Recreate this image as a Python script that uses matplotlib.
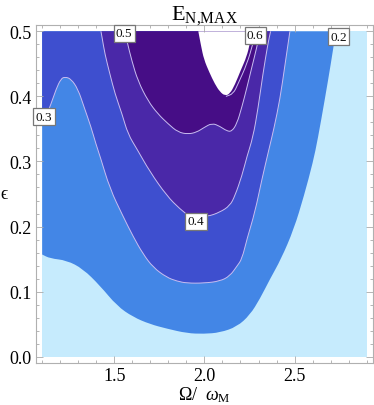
import matplotlib
matplotlib.use('Agg')
import matplotlib.pyplot as plt
from matplotlib.path import Path
from matplotlib.patches import PathPatch

plt.rcParams['mathtext.fontset'] = 'custom'
plt.rcParams['mathtext.rm'] = 'Liberation Serif'
plt.rcParams['mathtext.it'] = 'Liberation Serif:italic'
plt.rcParams['font.family'] = ['Liberation Serif', 'DejaVu Serif']

# ---- data ----
omega_range = [1.1, 2.9]
eps_range = [0.0, 0.5]

region_colors = ['#c6ebfd', '#4386e6', '#3e4fcf', '#4a28a8', '#460d86', '#ffffff']

# contour 0.2 (left edge -> top)
c02_x = [1.10, 1.143, 1.236, 1.326, 1.421, 1.515, 1.604, 1.698, 1.792, 1.903, 1.997, 2.086,
         2.180, 2.252, 2.308, 2.363, 2.425, 2.496, 2.552, 2.602, 2.629, 2.668, 2.701, 2.729]
c02_y = [0.157, 0.151, 0.148, 0.135, 0.109, 0.078, 0.061, 0.050, 0.043, 0.036, 0.035, 0.037,
         0.046, 0.064, 0.089, 0.119, 0.150, 0.196, 0.247, 0.299, 0.335, 0.396, 0.450, 0.500]

# contour 0.3 (left edge -> top)
c03_x = [1.10, 1.149, 1.177, 1.204, 1.226, 1.260, 1.299, 1.332, 1.371, 1.398, 1.421, 1.476,
         1.548, 1.604, 1.659, 1.716, 1.790, 1.848, 1.903, 1.997, 2.086, 2.141, 2.180, 2.208,
         2.236, 2.280, 2.319, 2.358, 2.385, 2.419, 2.446, 2.474]
c03_y = [0.355, 0.388, 0.411, 0.427, 0.430, 0.427, 0.411, 0.384, 0.353, 0.327, 0.308, 0.258,
         0.216, 0.185, 0.158, 0.137, 0.122, 0.116, 0.113, 0.113, 0.116, 0.124, 0.139, 0.150,
         0.181, 0.222, 0.273, 0.319, 0.350, 0.396, 0.447, 0.500]

# contour 0.4 (top -> top)
c04_x = [1.426, 1.432, 1.448, 1.476, 1.504, 1.543, 1.576, 1.626, 1.698, 1.792, 1.864, 1.920,
         2.014, 2.086, 2.141, 2.169, 2.208, 2.236, 2.269, 2.297, 2.324, 2.352, 2.367]
c04_y = [0.500, 0.491, 0.465, 0.434, 0.404, 0.373, 0.342, 0.319, 0.284, 0.247, 0.227, 0.215,
         0.215, 0.222, 0.232, 0.247, 0.278, 0.308, 0.337, 0.381, 0.434, 0.481, 0.500]

# contour 0.5 (top -> top)
c05_x = [1.561, 1.570, 1.598, 1.631, 1.687, 1.742, 1.798, 1.853, 1.910, 1.957, 1.997, 2.042,
         2.086, 2.123, 2.151, 2.180, 2.208, 2.236, 2.263, 2.291, 2.308]
c05_y = [0.500, 0.485, 0.454, 0.424, 0.393, 0.373, 0.358, 0.345, 0.342, 0.345, 0.352, 0.359,
         0.354, 0.347, 0.346, 0.358, 0.384, 0.414, 0.445, 0.476, 0.500]

# contour 0.6 line
c06_x = [2.119, 2.160, 2.186, 2.236, 2.269, 2.284]
c06_y = [0.400, 0.404, 0.419, 0.450, 0.481, 0.500]

# white (undefined) region above 0.6
hole_x = [1.966, 1.981, 1.997, 2.027, 2.058, 2.086, 2.114, 2.141, 2.169, 2.201, 2.234, 2.252, 2.263]
hole_y = [0.500, 0.478, 0.457, 0.437, 0.419, 0.407, 0.401, 0.404, 0.418, 0.440, 0.461, 0.481, 0.500]

label_text = ['0.5', '0.6', '0.2', '0.3', '0.4']
label_x = [1.555, 2.282, 2.744, 1.110, 1.953]
label_y = [0.497, 0.494, 0.492, 0.369, 0.208]

xticks = [1.5, 2.0, 2.5]
yticks = [0.0, 0.1, 0.2, 0.3, 0.4, 0.5]
xminor = [1.1, 1.2, 1.3, 1.4, 1.6, 1.7, 1.8, 1.9, 2.1, 2.2, 2.3, 2.4, 2.6, 2.7, 2.8, 2.9]
yminor = [0.02, 0.04, 0.06, 0.08, 0.12, 0.14, 0.16, 0.18, 0.22, 0.24, 0.26, 0.28,
          0.32, 0.34, 0.36, 0.38, 0.42, 0.44, 0.46, 0.48]


def smooth_path(xs, ys, extra=(), close=False):
    """Quadratic-Bezier path using the read points as control points."""
    pts = list(zip(xs, ys))
    verts = [pts[0]]
    codes = [Path.MOVETO]
    mid = lambda a, b: ((a[0] + b[0]) / 2, (a[1] + b[1]) / 2)
    verts.append(mid(pts[0], pts[1]))
    codes.append(Path.LINETO)
    for i in range(1, len(pts) - 1):
        verts += [pts[i], mid(pts[i], pts[i + 1])]
        codes += [Path.CURVE3, Path.CURVE3]
    verts.append(pts[-1])
    codes.append(Path.LINETO)
    for p in extra:
        verts.append(p)
        codes.append(Path.LINETO)
    if close:
        verts.append(pts[0])
        codes.append(Path.CLOSEPOLY)
    return Path(verts, codes)


# ---- figure ----
fig = plt.figure(figsize=(3.74, 4.06), dpi=100)
ax = fig.add_axes([0.0954, 0.1027, 0.901, 0.834])

x0, x1 = omega_range
y0, y1 = eps_range
ax.fill([x0, x1, x1, x0], [y0, y0, y1, y1], color=region_colors[0], lw=0)
ax.add_patch(PathPatch(smooth_path(c02_x, c02_y, extra=[(x0, y1)], close=True),
                       fc=region_colors[1], lw=0))
ax.add_patch(PathPatch(smooth_path(c03_x, c03_y, extra=[(x0, y1)], close=True),
                       fc=region_colors[2], lw=0))
ax.add_patch(PathPatch(smooth_path(c04_x, c04_y, close=True), fc=region_colors[3], lw=0))
ax.add_patch(PathPatch(smooth_path(c05_x, c05_y, close=True), fc=region_colors[4], lw=0))
ax.add_patch(PathPatch(smooth_path(hole_x, hole_y, close=True), fc=region_colors[5], lw=0))

line_col = '#c9bdf0'
for cx, cy in [(c03_x, c03_y), (c04_x, c04_y), (c05_x, c05_y), (c06_x, c06_y)]:
    ax.add_patch(PathPatch(smooth_path(cx, cy), fc='none', ec=line_col, lw=0.7))

for t, lx, ly in zip(label_text, label_x, label_y):
    ax.text(lx, ly, t, ha='center', va='center', fontsize=9.5, color='#111111',
            bbox=dict(boxstyle='square,pad=0.18', fc='white', ec='#777777', lw=0.9))

ax.set_xlim(1.064, 2.933)
ax.set_ylim(-0.0102, 0.5102)
ax.set_xticks(xticks)
ax.set_xticklabels(['1.5', '2.0', '2.5'])
ax.set_yticks(yticks)
ax.set_yticklabels(['0.0', '0.1', '0.2', '0.3', '0.4', '0.5'])
ax.set_xticks(xminor, minor=True)
ax.set_yticks(yminor, minor=True)
ax.tick_params(which='both', direction='in', top=True, right=True, color='#aaaaaa', width=0.6)
ax.tick_params(which='major', length=5, labelsize=13, pad=3)
ax.tick_params(which='minor', length=2.5)
for s in ax.spines.values():
    s.set_color('#b0b0b0')
    s.set_linewidth(0.8)

fig.text(0.5455, 0.951, r'$\mathrm{E}_{\mathrm{N{,}MAX}}$', ha='center', va='baseline', fontsize=16)
fig.text(0.5455, 0.0148, r'$\Omega/\ \ \omega_{\mathrm{M}}$', ha='center', va='baseline', fontsize=13)
fig.text(0.012, 0.52, '\u03f5', ha='center', va='center', fontsize=13)

fig.savefig('out.png', dpi=100)
